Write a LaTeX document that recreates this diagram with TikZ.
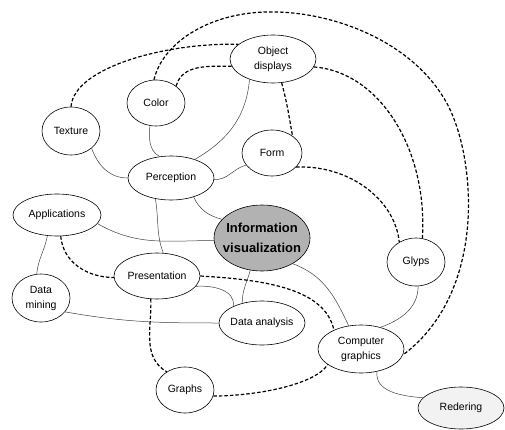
\documentclass[tikz,border=0pt]{standalone}
\usepackage{fontspec}
\setmainfont{Liberation Sans}
\usetikzlibrary{shapes.geometric}
\begin{document}
\begin{tikzpicture}[x=1pt,y=1pt,
  bubble/.style={ellipse, draw=black, line width=0.6pt, fill=white, inner xsep=-4pt, inner ysep=0pt,
                 align=center, font=\fontsize{10.5}{15}\selectfont},
  small/.style={bubble, minimum width=58pt, minimum height=46pt},
  wide/.style={bubble, minimum width=86pt, minimum height=46pt},
  link/.style={draw=black!75, line width=0.5pt},
  dlink/.style={draw=black, line width=1.2pt, dash pattern=on 3.5pt off 2pt},
]
\useasboundingbox (0,0) rectangle (505,429);
\fill[white] (0,0) rectangle (505,429);

% concepts
\node[wide, minimum height=48pt] (obj) at (273,370) {Object\\displays};
\node[small] (col) at (156,326) {Color};
\node[small, minimum height=48pt] (tex) at (71,298) {Texture};
\node[wide, minimum height=44pt] (per) at (171,251) {Perception};
\node[small, minimum width=60pt] (frm) at (272,276) {Form};
\node[wide, minimum width=88pt, minimum height=42pt] (app) at (57,214) {Applications};
\node[ellipse, draw=black, line width=0.6pt, fill=black!30, minimum width=96pt, minimum height=66pt,
      inner xsep=-12pt, inner ysep=0pt, align=center,
      font=\bfseries\fontsize{13}{20}\selectfont] (inf) at (262,191) {Information\\visualization};
\node[small, minimum height=48pt] (gly) at (416,167) {Glyps};
\node[wide] (pre) at (157,153) {Presentation};
\node[small, minimum height=48pt] (dmn) at (41,131) {Data\\mining};
\node[wide, minimum height=44pt] (dan) at (262,106) {Data analysis};
\node[wide, minimum height=48pt] (cgr) at (361,80) {Computer\\graphics};
\node[small] (gra) at (185,39) {Graphs};
\node[wide, minimum height=42pt, fill=black!5] (ren) at (461,21) {Redering};

% solid relations
\draw[link] (tex.-40) to[out=-70,in=180] (per.180);
\draw[link] (col.-105) to[out=-95,in=150] (per.118);
\draw[link] (obj.-139) to[out=-95,in=30] (per.38);
\draw[link] (per.-2) to[out=-3,in=-165] (frm.-155);
\draw[link] (per.-40) to[out=-65,in=165] (inf.155);
\draw[link] (per.-127) to[out=-80,in=110] (pre.75);
\draw[link] (app.-12) to[out=-30,in=180] (inf.183);
\draw[link] (app.-115) to[out=-100,in=85] (dmn.100);
\draw[link] (dmn.-30) to[out=-10,in=180] (dan.180);
\draw[link] (pre.-15) to[out=5,in=80] (dan.150);
\draw[link] (inf.-110) to[out=-105,in=90] (dan.135);
\draw[link] (inf.-40) to[out=-20,in=115] (cgr.118);
\draw[link] (gly.-85) to[out=-90,in=20] (cgr.48);
\draw[link] (cgr.-55) to[out=-95,in=175] (ren.165);

% dashed relations
\draw[dlink] (tex.90) .. controls +(3,40) and +(-70,2) .. (obj.157);
\draw[dlink] (col.95) .. controls (162,384) and (205,415) .. (265,417)
                      .. controls (330,419) and (410,389) .. (445,329)
                      .. controls (475,279) and (490,139) .. (cgr.-8);
\draw[dlink] (col.40) to[out=75,in=180] (obj.190);
\draw[dlink] (obj.-70) to[out=-75,in=100] (frm.40);
\draw[dlink] (obj.-11) .. controls (380,357) and (428,279) .. (gly.75);
\draw[dlink] (frm.-30) .. controls (350,264) and (395,229) .. (gly.130);
\draw[dlink] (app.-80) to[out=-85,in=180] (pre.182);
\draw[dlink] (pre.0) .. controls (270,149) and (325,139) .. (cgr.145);
\draw[dlink] (pre.-105) to[out=-88,in=150] (gra.135);
\draw[dlink] (gra.-12) .. controls (255,33) and (315,44) .. (cgr.-155);
\end{tikzpicture}
\end{document}
